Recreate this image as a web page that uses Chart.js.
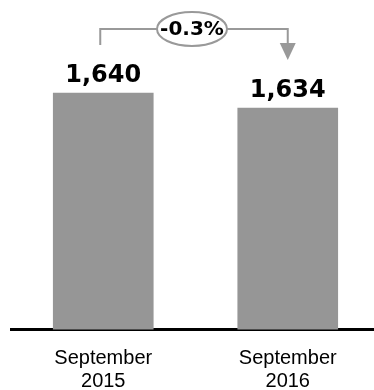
<!DOCTYPE html>
<html>
<head>
<meta charset="utf-8">
<script src="https://cdn.jsdelivr.net/npm/chart.js@4"></script>
<style>
  html, body { margin: 0; padding: 0; background: #fff; overflow: hidden; }
  #wrap { width: 380px; height: 390px; }
</style>
</head>
<body>
<div id="wrap"><canvas id="chart" width="380" height="390"></canvas></div>
<script>
const categories = [['September', '2015'], ['September', '2016']];
const values = [1640, 1634];
const valueLabels = ['1,640', '1,634'];
const changeLabel = '-0.3%';
const yMin = 1545.4;
const yMax = 1677.2;

const barGray = '#969696';
const lineGray = '#999999';

// value labels, bracket arrow and the % change bubble
const annotations = {
    id: 'annotations',
    afterDatasetsDraw(chart) {
        const ctx = chart.ctx;
        const bars = chart.getDatasetMeta(0).data;
        ctx.save();
        ctx.fillStyle = '#000';
        ctx.textAlign = 'center';
        ctx.textBaseline = 'alphabetic';
        ctx.font = 'bold 24px "DejaVu Sans"';
        bars.forEach((b, i) => ctx.fillText(valueLabels[i], b.x, b.y - 11));

        const b1 = bars[0], b2 = bars[1];
        const x1 = b1.x - 3, x2 = b2.x;
        const lineY = b1.y - 64;
        ctx.strokeStyle = lineGray;
        ctx.lineWidth = 2;
        ctx.beginPath();
        ctx.moveTo(x1, b1.y - 48);
        ctx.lineTo(x1, lineY);
        ctx.lineTo(x2, lineY);
        ctx.lineTo(x2, b2.y - 64);
        ctx.stroke();
        ctx.fillStyle = lineGray;
        ctx.beginPath();
        ctx.moveTo(x2 - 8, b2.y - 65);
        ctx.lineTo(x2 + 8, b2.y - 65);
        ctx.lineTo(x2, b2.y - 48);
        ctx.closePath();
        ctx.fill();

        const cx = (x1 + x2) / 2 - 2;
        ctx.beginPath();
        ctx.ellipse(cx, lineY, 35, 17, 0, 0, Math.PI * 2);
        ctx.fillStyle = '#fff';
        ctx.fill();
        ctx.stroke();
        ctx.fillStyle = '#000';
        ctx.font = 'bold 20px "DejaVu Sans"';
        ctx.textBaseline = 'middle';
        ctx.fillText(changeLabel, cx, lineY + 1);
        ctx.restore();
    }
};

new Chart(document.getElementById('chart'), {
    type: 'bar',
    data: {
        labels: categories,
        datasets: [{ data: values, backgroundColor: barGray, barThickness: 100 }]
    },
    options: {
        responsive: false,
        animation: false,
        layout: { padding: { left: 11, top: 0, right: 0, bottom: 0 } },
        plugins: { legend: { display: false }, tooltip: { enabled: false } },
        scales: {
            y: { display: false, min: yMin, max: yMax },
            x: {
                grid: { display: false, drawTicks: false },
                border: { display: true, color: '#000', width: 3 },
                ticks: {
                    color: '#000',
                    padding: 17,
                    font: { family: '"Liberation Sans", Arial, sans-serif', size: 20, lineHeight: 1.15 }
                },
                afterFit(scale) { scale.height = 60.5; }
            }
        }
    },
    plugins: [annotations]
});
</script>
</body>
</html>
